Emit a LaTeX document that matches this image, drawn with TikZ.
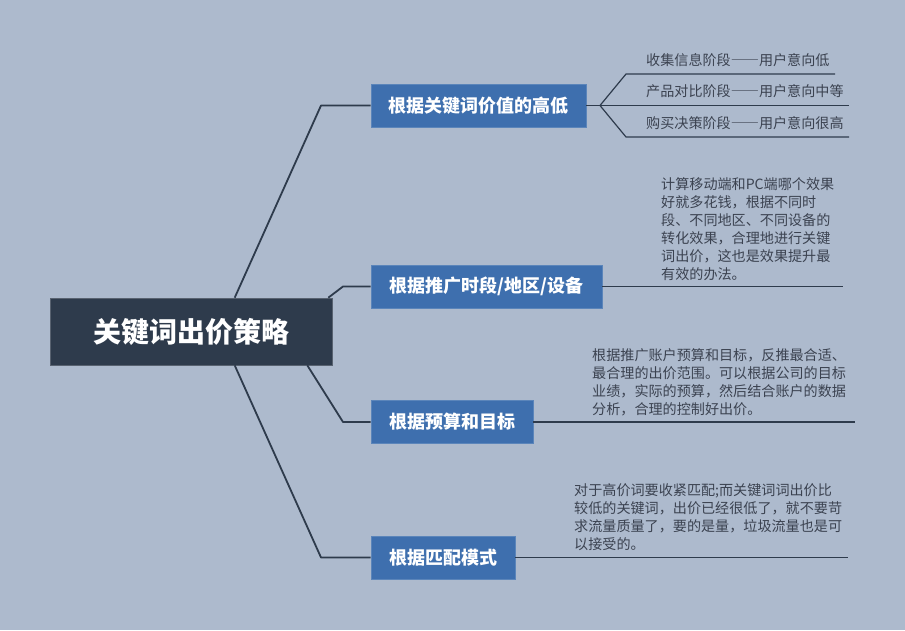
\documentclass[tikz,border=0pt]{standalone}
\usepackage{fontspec}
\setmainfont{Noto Sans CJK SC}
\usetikzlibrary{calc}
\definecolor{bg}{HTML}{ADBACD}
\definecolor{rootfill}{HTML}{2E3B4C}
\definecolor{boxfill}{HTML}{3E6FAE}
\definecolor{linecol}{HTML}{2E3B4C}
\definecolor{txtcol}{HTML}{3B4250}
\newcommand{\fwdash}{{\addfontfeatures{CharacterWidth=Full}——}}
\tikzset{
  rootbox/.style={fill=rootfill, draw=rootfill!80!white, line width=0.6pt, text=white, inner sep=0pt,
    minimum width=282pt, minimum height=67pt, font=\fontsize{28}{30}\selectfont\bfseries},
  branchbox/.style={fill=boxfill, draw=boxfill!85!white, line width=0.6pt, text=white, inner sep=0pt,
    minimum height=43pt, font=\fontsize{18}{20}\selectfont\bfseries},
  conn/.style={draw=linecol, line width=1.8pt, line join=round},
  leafline/.style={draw=linecol, line width=1.2pt, line join=round},
  leaftext/.style={text=txtcol, inner sep=0pt, anchor=north west, align=left,
    font=\fontsize{14.1}{18}\selectfont},
}
\begin{document}
\begin{tikzpicture}[x=1pt,y=-1pt]
\fill[bg] (0,0) rectangle (905,630);
\useasboundingbox (0,0) rectangle (905,630);

% root and branches
\node[rootbox] (root) at (191,331.5) {关键词出价策略};
\node[branchbox, minimum width=215pt] (b1) at (478.5,105.5) {根据关键词价值的高低};
\node[branchbox, minimum width=231pt] (b2) at (486.5,286.5) {根据推广时段/地区/设备};
\node[branchbox, minimum width=162pt] (b3) at (452,422) {根据预算和目标};
\node[branchbox, minimum width=144pt] (b4) at (443,557.5) {根据匹配模式};

% elbows
\coordinate (k1) at (321,105.5);
\coordinate (k2) at (343,286.5);
\coordinate (k3) at (343,422);
\coordinate (k4) at (321,557.5);

\draw[conn] ([xshift=185pt]root.north west) -- (k1) -- (b1.west);
\draw[conn] ([xshift=-4pt]root.north east) -- (k2) -- (b2.west);
\draw[conn] ([xshift=-25pt]root.south east) -- (k3) -- (b3.west);
\draw[conn] ([xshift=185pt]root.south west) -- (k4) -- (b4.west);

% branch 1 leaves
\node[leaftext] (t11) at (646,53) {收集信息阶段\fwdash 用户意向低};
\node[leaftext] (t12) at (646,84.5) {产品对比阶段\fwdash 用户意向中等};
\node[leaftext] (t13) at (646,116) {购买决策阶段\fwdash 用户意向很高};
\coordinate (f1) at (600,105.5);
\coordinate (u1a) at (626,74);
\coordinate (u1b) at (835,74);
\coordinate (u2b) at (849,105.5);
\coordinate (u3a) at (626,137);
\coordinate (u3b) at (849,137);
\draw[leafline] (b1.east) -- (f1);
\draw[leafline] (f1) -- (u1a) -- (u1b);
\draw[leafline] (f1) -- (u2b);
\draw[leafline] (f1) -- (u3a) -- (u3b);

% branch 2 leaf
\node[leaftext] (t2) at (661,177) {计算移动端和PC端哪个效果\\好就多花钱，根据不同时\\段、不同地区、不同设备的\\转化效果，合理地进行关键\\词出价，这也是效果提升最\\有效的办法。};
\coordinate (e2) at (843,286.5);
\draw[leafline] (b2.east) -- (e2);

% branch 3 leaf
\node[leaftext] (t3) at (592,348) {根据推广账户预算和目标，反推最合适、\\最合理的出价范围。可以根据公司的目标\\业绩，实际的预算，然后结合账户的数据\\分析，合理的控制好出价。};
\coordinate (e3) at (855,422);
\draw[leafline] (b3.east) -- (e3);

% branch 4 leaf
\node[leaftext] (t4) at (574,483) {对于高价词要收紧匹配;而关键词词出价比\\较低的关键词，出价已经很低了，就不要苛\\求流量质量了，要的是量，垃圾流量也是可\\以接受的。};
\coordinate (e4) at (848,557.5);
\draw[leafline] (b4.east) -- (e4);
\end{tikzpicture}
\end{document}
